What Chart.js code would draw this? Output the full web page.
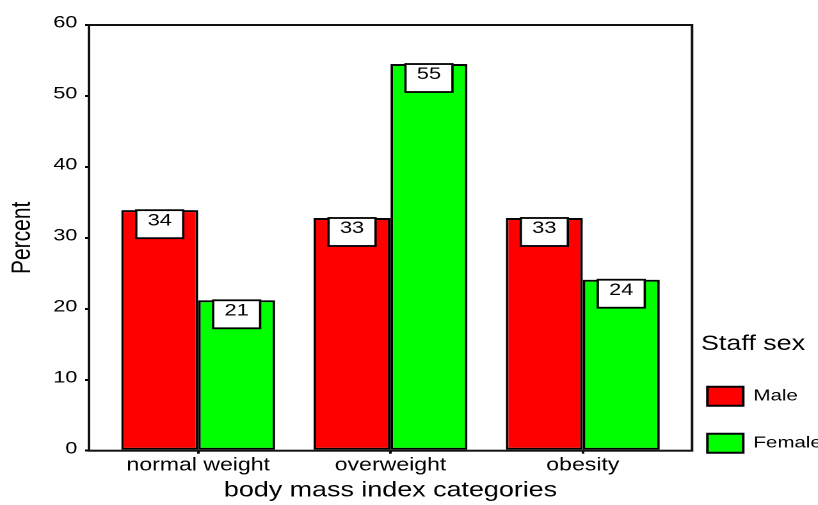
<!DOCTYPE html>
<html>
<head>
<meta charset="utf-8">
<script src="https://cdn.jsdelivr.net/npm/chart.js@4/dist/chart.umd.min.js"></script>
<style>
    html, body { margin: 0; padding: 0; background: #fff; }
    #wrap { width: 818px; height: 505px; overflow: hidden; position: relative; }
    /* the original picture is stretched sideways, so the canvas is too */
    #chart { transform: scaleX(1.28); transform-origin: 0 0; display: block; }
</style>
</head>
<body>
<div id="wrap">
    <canvas id="chart" width="668" height="505"></canvas>
</div>
<script>
const categories = ["normal weight", "overweight", "obesity"];
const maleValues = [33.9, 32.8, 32.8];
const femaleValues = [21.2, 54.5, 24.1];
const seriesNames = ["Male", "Female"];

const FONT = '"Liberation Sans", Arial, sans-serif';
Chart.defaults.font.family = FONT;
Chart.defaults.color = "#000";

// frame around the plot + white value boxes on top of each bar
const framePlugin = {
    id: "framePlugin",
    afterLayout(chart) {
        // legend sits closer to the frame than Chart.js puts it
        chart.legend.left -= 16;
        chart.legend.right -= 16;
    },
    afterDatasetsDraw(chart) {
        const { ctx, chartArea: a } = chart;
        ctx.save();
        ctx.strokeStyle = "#111";
        ctx.lineWidth = 2;
        ctx.strokeRect(a.left, a.top, a.right - a.left, a.bottom - a.top);

        ctx.font = "17px " + FONT;
        ctx.textAlign = "center";
        ctx.textBaseline = "middle";
        ctx.lineWidth = 1.8;
        chart.data.datasets.forEach((ds, i) => {
            chart.getDatasetMeta(i).data.forEach((bar, j) => {
                const w = 36.7, h = 28;
                ctx.fillStyle = "#fff";
                ctx.fillRect(bar.x - w / 2, bar.y, w, h);
                ctx.strokeStyle = "#000";
                ctx.strokeRect(bar.x - w / 2, bar.y, w, h);
                ctx.fillStyle = "#000";
                ctx.fillText(String(Math.round(ds.data[j].y)), bar.x, bar.y + 10.5);
            });
        });
        ctx.restore();
    }
};

const toPoints = values => values.map((v, i) => ({ x: i, y: v }));

new Chart(document.getElementById("chart"), {
    type: "bar",
    data: {
        datasets: [
            {
                label: seriesNames[0],
                data: toPoints(maleValues),
                backgroundColor: "#ff0000",
                borderColor: "#000",
                borderWidth: 2,
                borderSkipped: false
            },
            {
                label: seriesNames[1],
                data: toPoints(femaleValues),
                backgroundColor: "#00ff00",
                borderColor: "#000",
                borderWidth: 2,
                borderSkipped: false
            }
        ]
    },
    options: {
        responsive: false,
        devicePixelRatio: 2,
        animation: false,
        categoryPercentage: 0.8,
        barPercentage: 1.0,
        layout: { padding: { top: 25, left: 0, right: 0, bottom: 0 } },

        plugins: {
            tooltip: { enabled: false },
            legend: {
                position: "right",
                align: "start",
                title: {
                    display: true,
                    text: "Staff sex",
                    color: "#000",
                    position: "center",
                    font: { size: 21 },
                    padding: { top: 308.5, bottom: 0 }
                },
                labels: {
                    color: "#000",
                    font: { size: 16 },
                    boxWidth: 28,
                    boxHeight: 19,
                    padding: 28
                }
            }
        },

        scales: {
            x: {
                type: "linear",
                offset: false,
                min: -0.568,
                max: 2.568,
                afterBuildTicks: s => {
                    s.ticks = categories.map((c, i) => ({ value: i }));
                },
                ticks: {
                    callback: v => categories[v],
                    color: "#000",
                    font: { size: 18 },
                    padding: 1,
                    autoSkip: false,
                    maxRotation: 0
                },
                grid: {
                    offset: false,
                    drawOnChartArea: false,
                    tickLength: 3,
                    color: "#000",
                    lineWidth: 2
                },
                border: { display: false },
                title: {
                    display: true,
                    text: "body mass index categories",
                    color: "#000",
                    font: { size: 21 },
                    padding: { top: 0, bottom: 1.5 }
                },
                afterFit: s => { s.height = 54.3; }
            },
            y: {
                min: 0,
                max: 60,
                ticks: {
                    stepSize: 10,
                    color: "#000",
                    font: { size: 17 },
                    padding: 6,
                    labelOffset: -2
                },
                grid: { drawOnChartArea: false, tickLength: 3, color: "#000", lineWidth: 2 },
                border: { display: false },
                title: {
                    display: true,
                    text: "Percent",
                    color: "#000",
                    font: { size: 21 },
                    padding: { top: 5, bottom: 0 }
                },
                afterFit: s => { s.width = 69.5; }
            }
        }
    },
    plugins: [framePlugin]
});
</script>
</body>
</html>
